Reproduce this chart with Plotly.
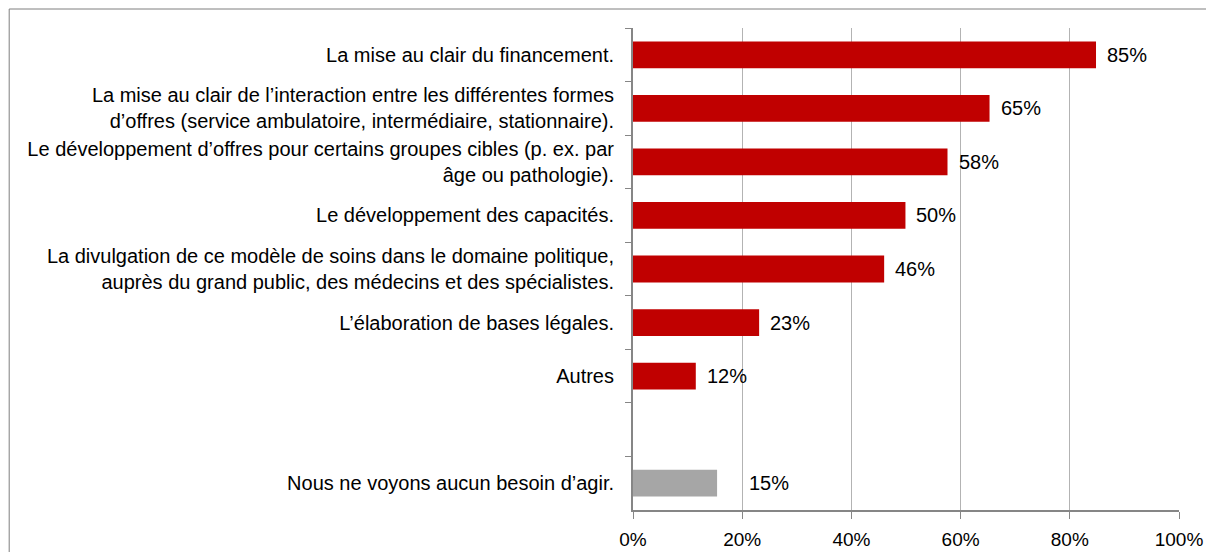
import plotly.graph_objects as go

# ── Data ────────────────────────────────────────────────────────────────────
categories = [
    "La mise au clair du financement.",
    "La mise au clair de l’interaction entre les différentes formes<br>d’offres (service ambulatoire, intermédiaire, stationnaire).",
    "Le développement d’offres pour certains groupes cibles (p. ex. par<br>âge ou pathologie).",
    "Le développement des capacités.",
    "La divulgation de ce modèle de soins dans le domaine politique,<br>auprès du grand public, des médecins et des spécialistes.",
    "L’élaboration de bases légales.",
    "Autres",
    " ",
    "Nous ne voyons aucun besoin d’agir.",
]
values = [0.848, 0.653, 0.576, 0.499, 0.46, 0.231, 0.115, None, 0.154]
labels = ["85%", "65%", "58%", "50%", "46%", "23%", "12%", "", "15%"]
bar_colors = ["#C00000"] * 8 + ["#A6A6A6"]
x_ticks = [0, 0.2, 0.4, 0.6, 0.8, 1.0]
x_ticklabels = ["0%", "20%", "40%", "60%", "80%", "100%"]

FONT = "Liberation Sans, Arial, sans-serif"
AXIS = "#868686"
GRID = "#B3B3B3"

fig = go.Figure()
fig.add_trace(go.Bar(
    x=values, y=categories, orientation="h",
    marker=dict(color=bar_colors, line=dict(width=0)),
    width=0.5, hoverinfo="skip",
))

# value labels after bars
for v, c, lab in zip(values, categories, labels):
    if v is None:
        continue
    shift = 30 if c.startswith("Nous") else 9
    fig.add_annotation(x=v, y=c, text=lab, showarrow=False,
                       xanchor="left", xshift=shift,
                       font=dict(size=20, color="#000000", family=FONT))

# outer frame (left and top edges visible)
fig.add_shape(type="rect", xref="paper", yref="paper",
              x0=-1.1425, x1=1.3, y0=-0.3, y1=1.0394,
              line=dict(color="#7F7F7F", width=1), fillcolor="rgba(0,0,0,0)")

fig.update_layout(
    width=1206, height=544,
    paper_bgcolor="#FFFFFF", plot_bgcolor="#FFFFFF",
    font=dict(family=FONT, color="#000000", size=16),
    margin=dict(l=625, r=35, t=20, b=42),
    showlegend=False,
    xaxis=dict(
        range=[0, 1], tickvals=x_ticks, ticktext=x_ticklabels,
        showgrid=True, gridcolor=GRID, gridwidth=1,
        showline=True, linecolor=AXIS, linewidth=2,
        ticks="outside", ticklen=7, tickcolor=AXIS, ticklabelstandoff=4,
        tickfont=dict(size=19), zeroline=False, fixedrange=True,
        automargin=False,
    ),
    yaxis=dict(
        type="category", categoryorder="array", categoryarray=categories,
        autorange="reversed",
        showline=True, linecolor=AXIS, linewidth=2,
        ticks="outside", ticklen=6, tickcolor=AXIS, tickson="boundaries",
        ticklabelstandoff=13, tickfont=dict(size=20),
        showgrid=False, fixedrange=True, automargin=False,
    ),
)

fig.write_html("out.html")
